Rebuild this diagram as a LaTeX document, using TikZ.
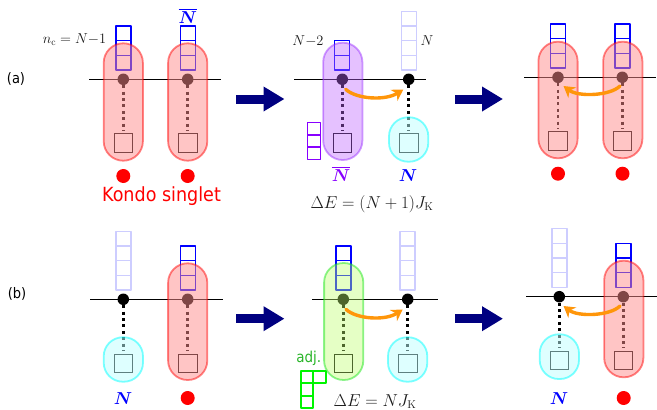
\documentclass[tikz,border=0pt]{standalone}
\usepackage{amsmath}
\usepackage{bm}
\usepackage{fontspec}
\newfontfamily\labfont[FakeStretch=0.9]{DejaVu Sans}
\usetikzlibrary{arrows.meta}
\definecolor{cellblue}{RGB}{0,0,255}
\definecolor{celllight}{RGB}{205,205,255}
\definecolor{purp}{RGB}{136,0,255}
\definecolor{grn}{RGB}{0,245,0}
\definecolor{adjtxt}{RGB}{40,180,40}
\definecolor{orng}{RGB}{255,150,10}
\definecolor{navyarr}{RGB}{0,0,128}
\definecolor{txtgray}{RGB}{25,25,25}
\definecolor{capred}{RGB}{255,0,0}
\definecolor{capredfill}{RGB}{255,140,140}
\definecolor{cappurp}{RGB}{150,40,255}
\definecolor{cappurpfill}{RGB}{190,100,255}
\definecolor{capgrn}{RGB}{30,230,30}
\definecolor{capgrnfill}{RGB}{190,255,110}
\definecolor{capcyan}{RGB}{0,255,255}
\definecolor{capcyanfill}{RGB}{189,255,255}
\tikzset{
  x=1pt,y=-1pt,
  cellbox/.style={line width=1.4pt,line join=round},
  adjbox/.style={line width=2pt,line join=round,line cap=rect,draw=grn},
  sitedot/.style={circle,fill=black,inner sep=0pt,minimum size=11.5pt},
  impsq/.style={draw=black,line width=0.9pt,inner sep=0pt,minimum size=18.5pt},
  chain/.style={line width=0.8pt,black},
  bond/.style={line width=2.6pt,dash pattern=on 3pt off 3.4pt,black,shorten >=3pt},
  redcapb/.style={line width=1.8pt,rounded corners=19.5pt,draw=capred,draw opacity=0.48,fill=capredfill,fill opacity=0.5},
  purpcap/.style={line width=1.8pt,rounded corners=19.5pt,draw=cappurp,draw opacity=0.45,fill=cappurpfill,fill opacity=0.4},
  grncap/.style={line width=1.8pt,rounded corners=19.5pt,draw=capgrn,draw opacity=0.5,fill=capgrnfill,fill opacity=0.4},
  cyancap/.style={line width=1.8pt,rounded corners=19pt,draw=capcyan,draw opacity=0.5,fill=capcyanfill,fill opacity=0.5},
  reddot/.style={circle,fill=red,inner sep=0pt,minimum size=14pt},
  hop/.style={orng,line width=3.4pt,-{Stealth[length=11pt,width=13pt,inset=3.5pt]},line cap=round},
  bigarrow/.style={navyarr,line width=9pt,-{Triangle[length=21pt,width=23.5pt]}},
  mathlab/.style={text=txtgray,inner sep=0pt,font=\fontsize{14}{16}\selectfont},
  irrep/.style={inner sep=0pt,font=\fontsize{17}{19}\selectfont},
  eqlab/.style={inner sep=0pt,text=txtgray,font=\fontsize{16}{19}\selectfont},
  panellab/.style={inner sep=0pt,text=black,font=\labfont\fontsize{14.5}{17}\selectfont},
}
% \cellcol{x}{ydot}{n}{colour}
\newcommand{\cellcol}[4]{%
  \foreach \i in {1,...,#3}{\draw[cellbox,draw=#4] ({#1-7.5},{#2-9.3-\i*14.7}) rectangle ++(15,14.7);}}
% \siteparts{name}{x}{ydot}{ysquare}
\newcommand{\siteparts}[4]{%
  \node[sitedot] (#1) at (#2,#3) {};
  \node[impsq] (#1s) at (#2,#4) {};
  \draw[bond] (#1) -- (#1s);}
% \capsule{style}{x}{ytop}{ybottom}
\newcommand{\capsule}[4]{\draw[#1] ({#2-19.6},#3) rectangle ({#2+19.6},#4);}
\begin{document}
\begin{tikzpicture}
\useasboundingbox (0,0) rectangle (657,410);
% ---------- (a) left
\coordinate (l1a) at (89,79.3); \coordinate (l1b) at (221,79.3);
\draw[chain] (l1a) -- (l1b);
\cellcol{123.3}{79.3}{3}{cellblue}
\cellcol{187.7}{79.3}{3}{cellblue}
\siteparts{a1}{123.3}{79.3}{142.8}
\siteparts{a2}{187.7}{79.3}{142.8}
\capsule{redcapb}{123.3}{43.3}{160.7}
\capsule{redcapb}{187.7}{43.3}{160.7}
\node[reddot] (ar1) at (123.3,176) {};
\node[reddot] (ar2) at (187.7,176) {};
\node[inner sep=0pt,text=red,font=\labfont\fontsize{19.5}{22}\selectfont] (kondo) at (161.5,196) {Kondo singlet};
\node[mathlab] (nc) at (74.5,40) {$n_{\mathrm{c}}=N{-}1$};
\node[irrep,text=cellblue] (abar) at (187.7,15.5) {$\overline{\bm{N}}$};
\node[panellab] (lab) at (16,79) {(a)};
% ---------- (a) middle
\coordinate (l2a) at (294,79.3); \coordinate (l2b) at (426,79.3);
\draw[chain] (l2a) -- (l2b);
\cellcol{341.8}{79.3}{2}{cellblue}
\cellcol{408.7}{79.3}{4}{celllight}
\siteparts{b1}{342.3}{79.3}{142.8}
\siteparts{b2}{408.7}{79.3}{142.8}
\capsule{purpcap}{342.8}{42.7}{160}
\draw[cyancap] (389,117.3) rectangle (428.3,161.7);
\foreach \i in {0,1,2}{\draw[cellbox,draw=purp] (307.7,{122.7+\i*12.2}) rectangle ++(12.6,12.2);}
\node[mathlab] (n2) at (308,41) {$N{-}2$};
\node[mathlab] (nn) at (427,41) {$N$};
\node[irrep,text=purp] (bbar) at (341,174) {$\overline{\bm{N}}$};
\node[irrep,text=cellblue] (bn) at (408,175.5) {$\bm{N}$};
\node[eqlab] (de1) at (372,204) {$\Delta E=(N+1)J_{\mathrm{K}}$};
\coordinate (h1s) at (345.7,89.3); \coordinate (h1e) at (403.3,89.5);
\draw[hop] (h1s) .. controls (356,99) and (385,101) .. (h1e);
% ---------- (a) right
\coordinate (l3a) at (524,77.3); \coordinate (l3b) at (656,77.3);
\draw[chain] (l3a) -- (l3b);
\cellcol{558}{77.3}{3}{cellblue}
\cellcol{622.3}{77.3}{3}{cellblue}
\siteparts{c1}{558}{77.3}{141}
\siteparts{c2}{622.3}{77.3}{141}
\capsule{redcapb}{558}{41.7}{158.3}
\capsule{redcapb}{622.8}{41.7}{158.3}
\node[reddot] (cr1) at (558,173.7) {};
\node[reddot] (cr2) at (622.5,173.7) {};
\coordinate (h2s) at (620,86); \coordinate (h2e) at (563.5,86);
\draw[hop] (h2s) .. controls (610,96) and (578,97) .. (h2e);
% ---------- (b) left
\coordinate (l4a) at (90.3,299.3); \coordinate (l4b) at (223,299.3);
\draw[chain] (l4a) -- (l4b);
\cellcol{123.3}{299.3}{4}{celllight}
\cellcol{187.7}{299.3}{3}{cellblue}
\siteparts{d1}{123.3}{299.3}{363.2}
\siteparts{d2}{187.7}{299.3}{363.2}
\draw[cyancap] (103.7,337.3) rectangle (143,381.7);
\capsule{redcapb}{187.7}{263.3}{380}
\node[irrep,text=cellblue] (dn) at (123,399) {$\bm{N}$};
\node[reddot] (dr) at (187.7,398) {};
\node[panellab] (lbb) at (17,294) {(b)};
% ---------- (b) middle
\coordinate (l5a) at (312.3,299.3); \coordinate (l5b) at (438,299.3);
\draw[chain] (l5a) -- (l5b);
\cellcol{343.3}{299.3}{3}{cellblue}
\cellcol{407.5}{299.3}{4}{celllight}
\siteparts{e1}{343.3}{299.3}{363.2}
\siteparts{e2}{407.7}{299.3}{363.2}
\capsule{grncap}{343.7}{263}{380}
\draw[cyancap] (388,337.3) rectangle (427.3,381.7);
\node[inner sep=0pt,text=adjtxt,font=\labfont\fontsize{15}{17}\selectfont] (adj) at (308.7,358) {adj.};
\draw[adjbox] (301,371) -- (326,371) -- (326,383) -- (301,383) -- cycle
  (313,371) -- (313,408) -- (301,408) -- (301,383)
  (301,396) -- (313,396);
\node[eqlab] (de2) at (375,401.5) {$\Delta E=NJ_{\mathrm{K}}$};
\coordinate (h3s) at (346,309.3); \coordinate (h3e) at (402.7,309.5);
\draw[hop] (h3s) .. controls (356,319) and (385,321) .. (h3e);
% ---------- (b) right
\coordinate (l6a) at (526.3,296.7); \coordinate (l6b) at (657,296.7);
\draw[chain] (l6a) -- (l6b);
\cellcol{559.3}{296.7}{4}{celllight}
\cellcol{623.3}{296.7}{3}{cellblue}
\siteparts{f1}{559.3}{296.7}{360.2}
\siteparts{f2}{623.3}{296.7}{360.2}
\draw[cyancap] (539.7,334.3) rectangle (579,379);
\capsule{redcapb}{623.8}{260.7}{377.3}
\node[irrep,text=cellblue] (fn) at (559,398.5) {$\bm{N}$};
\node[reddot] (fr) at (623.7,398) {};
\coordinate (h4s) at (620,306); \coordinate (h4e) at (563.5,306);
\draw[hop] (h4s) .. controls (610,316) and (578,317) .. (h4e);
% ---------- big arrows
\coordinate (ba1) at (236,99); \coordinate (ba1e) at (284.5,99);
\coordinate (ba2) at (455,99); \coordinate (ba2e) at (503,99);
\coordinate (ba3) at (236,318.7); \coordinate (ba3e) at (284.5,318.7);
\coordinate (ba4) at (455,318.7); \coordinate (ba4e) at (503,318.7);
\draw[bigarrow] (ba1) -- (ba1e);
\draw[bigarrow] (ba2) -- (ba2e);
\draw[bigarrow] (ba3) -- (ba3e);
\draw[bigarrow] (ba4) -- (ba4e);
\end{tikzpicture}
\end{document}
